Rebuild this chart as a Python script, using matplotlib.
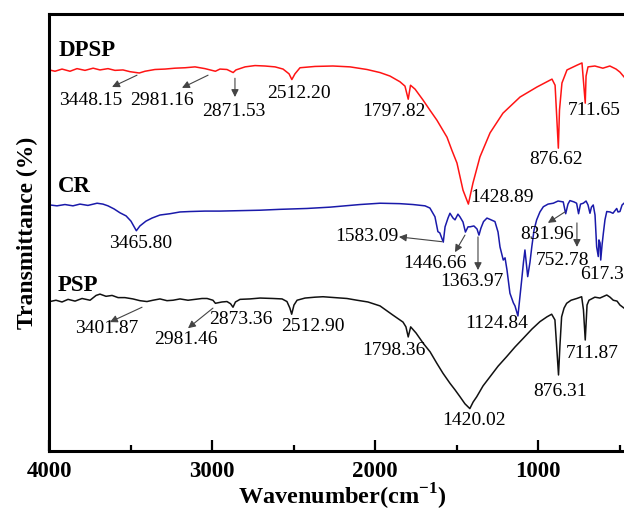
import matplotlib
matplotlib.use("Agg")
import matplotlib.pyplot as plt
from matplotlib.ticker import MultipleLocator

plt.rcParams['font.family'] = ['Liberation Serif', 'DejaVu Serif']
plt.rcParams['mathtext.fontset'] = 'custom'
plt.rcParams['mathtext.rm'] = 'Liberation Serif'
plt.rcParams['mathtext.bf'] = 'Liberation Serif:bold'

# DPSP (red) - wavenumber / transmittance (offset, arbitrary units)
dpsp_wn = [4000, 3965, 3922, 3873, 3830, 3781, 3731, 3689, 3640, 3597, 3548, 3505,
           3448, 3413, 3352, 3290, 3229, 3167, 3106, 3045, 2981, 2953, 2910, 2872,
           2855, 2799, 2738, 2677, 2615, 2566, 2529, 2512, 2493, 2462, 2370, 2260,
           2155, 2051, 1971, 1910, 1849, 1818, 1798, 1784, 1756, 1707, 1665, 1622,
           1560, 1530, 1499, 1462, 1429, 1401, 1358, 1296, 1217, 1112, 1008, 916,
           897, 877, 870, 855, 824, 762, 732, 712, 707, 695, 653, 604, 561, 523,
           499, 474]
dpsp_t = [87.2, 86.9, 87.4, 86.9, 87.5, 87.1, 87.6, 87.2, 87.5, 87.1, 87.2, 86.8,
          86.5, 86.9, 87.3, 87.4, 87.6, 87.7, 87.9, 87.5, 86.9, 87.4, 87.3, 86.6,
          87.2, 87.9, 88.2, 88.1, 87.9, 87.4, 86.3, 85.0, 86.3, 87.7, 88.0, 88.1,
          87.9, 87.3, 86.6, 85.8, 84.5, 83.5, 80.5, 83.7, 82.8, 80.3, 78.0, 75.7,
          71.8, 68.8, 65.9, 59.7, 56.5, 61.3, 67.3, 72.8, 77.3, 81.0, 83.3, 85.1,
          83.7, 69.3, 78.0, 84.2, 87.2, 88.3, 88.8, 79.6, 85.8, 87.9, 88.1, 87.6,
          88.1, 87.4, 86.7, 85.6]

# CR (blue)
cr_wn = [3996, 3953, 3904, 3855, 3812, 3763, 3707, 3671, 3640, 3603, 3566, 3529,
         3499, 3466, 3444, 3407, 3370, 3321, 3259, 3198, 3137, 3045, 2953, 2830,
         2707, 2585, 2419, 2278, 2094, 1971, 1849, 1769, 1695, 1665, 1634, 1616,
         1604, 1583, 1572, 1554, 1542, 1523, 1511, 1493, 1481, 1462, 1447, 1431,
         1419, 1395, 1376, 1364, 1352, 1336, 1315, 1296, 1266, 1247, 1235, 1215,
         1204, 1192, 1174, 1153, 1143, 1125, 1102, 1091, 1082, 1065, 1051, 1040,
         1026, 1010, 990, 969, 940, 908, 879, 847, 832, 818, 806, 781, 765, 753,
         741, 724, 707, 695, 683, 674, 663, 652, 642, 632, 628, 621, 617, 609,
         601, 591, 580, 560, 542, 519, 511, 499, 486, 474]
cr_t = [56.3, 56.1, 56.4, 56.1, 56.5, 56.2, 56.7, 56.5, 56.1, 55.4, 54.5, 53.8,
        52.6, 50.4, 51.5, 52.6, 53.3, 54.0, 54.3, 54.7, 54.8, 54.9, 54.9, 55.0,
        55.1, 55.3, 55.5, 55.8, 56.4, 56.7, 56.6, 56.4, 56.1, 55.6, 53.6, 50.2,
        49.9, 47.8, 51.3, 53.3, 54.4, 53.3, 52.9, 54.2, 53.6, 52.4, 50.1, 51.3,
        51.3, 51.5, 50.8, 49.4, 51.0, 52.5, 53.3, 53.0, 52.5, 50.1, 46.7, 43.7,
        44.2, 41.4, 36.1, 33.9, 33.2, 30.9, 39.1, 43.2, 46.0, 39.9, 43.2, 46.7,
        50.6, 52.9, 54.7, 55.9, 56.5, 56.7, 57.2, 57.0, 54.3, 56.5, 57.3, 57.0,
        56.7, 54.3, 56.5, 56.7, 57.2, 56.3, 54.4, 55.8, 56.3, 54.0, 46.7, 44.5,
        48.3, 47.6, 43.7, 47.1, 49.8, 52.9, 54.8, 54.7, 54.4, 55.5, 54.7, 54.8,
        56.3, 56.7]

# PSP (black)
psp_wn = [3996, 3959, 3922, 3885, 3842, 3799, 3750, 3713, 3689, 3652, 3615, 3578,
          3536, 3487, 3444, 3401, 3364, 3321, 3278, 3241, 3198, 3149, 3106, 3063,
          3032, 2996, 2981, 2941, 2910, 2888, 2873, 2858, 2830, 2769, 2707, 2628,
          2572, 2542, 2524, 2513, 2499, 2480, 2431, 2370, 2321, 2248, 2174, 2112,
          2045, 1971, 1892, 1830, 1812, 1798, 1783, 1750, 1705, 1664, 1623, 1585,
          1542, 1511, 1480, 1450, 1420, 1400, 1378, 1339, 1296, 1247, 1194, 1143,
          1092, 1039, 990, 947, 918, 898, 888, 876, 867, 857, 842, 826, 799, 764,
          734, 723, 712, 701, 689, 653, 622, 580, 560, 540, 517, 499, 474]
psp_t = [34.2, 34.5, 34.1, 34.7, 34.3, 34.9, 34.5, 35.6, 35.9, 35.4, 35.6, 35.1,
         35.1, 34.8, 34.4, 34.2, 34.5, 34.8, 34.4, 34.5, 34.8, 34.5, 34.7, 34.9,
         34.9, 34.5, 33.8, 34.1, 34.2, 33.7, 32.9, 34.1, 34.7, 34.8, 35.0, 34.9,
         34.8, 34.2, 32.7, 31.3, 33.4, 34.5, 35.0, 35.2, 35.3, 35.1, 34.9, 34.5,
         34.1, 33.2, 31.1, 29.5, 28.4, 26.1, 28.4, 27.0, 24.6, 22.7, 20.1, 17.8,
         15.5, 14.0, 12.4, 10.8, 9.7, 11.2, 12.4, 14.9, 17.0, 19.4, 21.6, 23.8,
         25.8, 27.9, 29.6, 30.7, 31.3, 30.0, 24.3, 17.4, 24.3, 30.7, 32.7, 33.8,
         34.5, 34.9, 35.3, 32.3, 25.4, 33.4, 34.5, 35.2, 35.0, 35.7, 35.2, 34.5,
         34.3, 33.4, 32.7]

series_names = ['DPSP', 'CR', 'PSP']
series_colors = ['#ff1414', '#1a1aaa', '#111111']

# peak labels: (text, x, y)
peak_labels = [
    ('3448.15', 3744, 80.3), ('2981.16', 3308, 80.3), ('2871.53', 2867, 77.8),
    ('2512.20', 2468, 81.9), ('1797.82', 1888, 77.8), ('876.62', 891, 66.6),
    ('711.65', 658, 78.0), ('1428.89', 1222, 58.1),
    ('3465.80', 3437, 47.4), ('1583.09', 2050, 49.0), ('1446.66', 1634, 43.0),
    ('1363.97', 1407, 38.9), ('1124.84', 1253, 29.1), ('831.96', 947, 49.6),
    ('752.78', 849, 43.7),
    ('3401.87', 3645, 28.1), ('2981.46', 3161, 25.6), ('2873.36', 2824, 30.0),
    ('2512.90', 2382, 28.6), ('1798.36', 1888, 23.1), ('1420.02', 1396, 6.9),
    ('876.31', 864, 13.7), ('711.87', 668, 22.2),
]
# arrows: (tail x, tail y, head x, head y)
arrows = [
    (3462, 86.0, 3615, 83.3), (3026, 86.0, 3186, 83.1), (2861, 85.3, 2861, 81.0),
    (1592, 47.9, 1855, 49.0), (1450, 49.4, 1511, 45.5), (1370, 49.0, 1370, 41.4),
    (837, 54.7, 941, 52.2), (763, 52.2, 763, 46.7),
    (3431, 32.9, 3628, 29.5), (2996, 32.7, 3149, 28.1),
]

fig = plt.figure(figsize=(6.24, 5.17), dpi=100)
ax = fig.add_axes([49.3 / 624, 66 / 517, 586.8 / 624, 437 / 517])

for wn, t, c in zip([dpsp_wn, cr_wn, psp_wn], [dpsp_t, cr_t, psp_t], series_colors):
    ax.plot(wn, t, color=c, lw=1.1)

ax.set_xlim(4000, 400)
ax.set_ylim(0, 100)

for name, y in zip(series_names, [91.7, 60.6, 37.8]):
    ax.text(3946, y, name, fontsize=16.5, fontweight='bold', ha='left', va='center')

for txt, x, y in peak_labels:
    ax.text(x, y, txt, fontsize=14, ha='center', va='center')
# this one runs off the right edge, as in the source figure
ax.text(744, 40.5, '617.36', fontsize=14, ha='left', va='center')

for x0, y0, x1, y1 in arrows:
    ax.annotate('', xy=(x1, y1), xytext=(x0, y0),
                arrowprops=dict(arrowstyle='-|>', color='#444444', lw=0.8,
                                mutation_scale=11, shrinkA=0, shrinkB=0))

ax.spines['right'].set_visible(False)
for s in ['left', 'bottom', 'top']:
    ax.spines[s].set_linewidth(2.2)

ax.xaxis.set_major_locator(MultipleLocator(1000))
ax.xaxis.set_minor_locator(MultipleLocator(500))
ax.tick_params(axis='x', which='major', direction='in', length=8, width=1.6,
               labelsize=16.5, pad=7, top=False)
ax.tick_params(axis='x', which='minor', direction='in', length=4.3, width=1.6, top=False)
ax.set_yticks([])
for lab in ax.get_xticklabels():
    lab.set_fontweight('bold')

ax.set_xlabel(r'Wavenumber(cm$^{\mathbf{-1}}$)', fontsize=17.5, fontweight='bold', labelpad=0)
ax.set_ylabel('Transmittance (%)', fontsize=17, fontweight='bold', labelpad=8)

fig.savefig('out.png', dpi=100)
